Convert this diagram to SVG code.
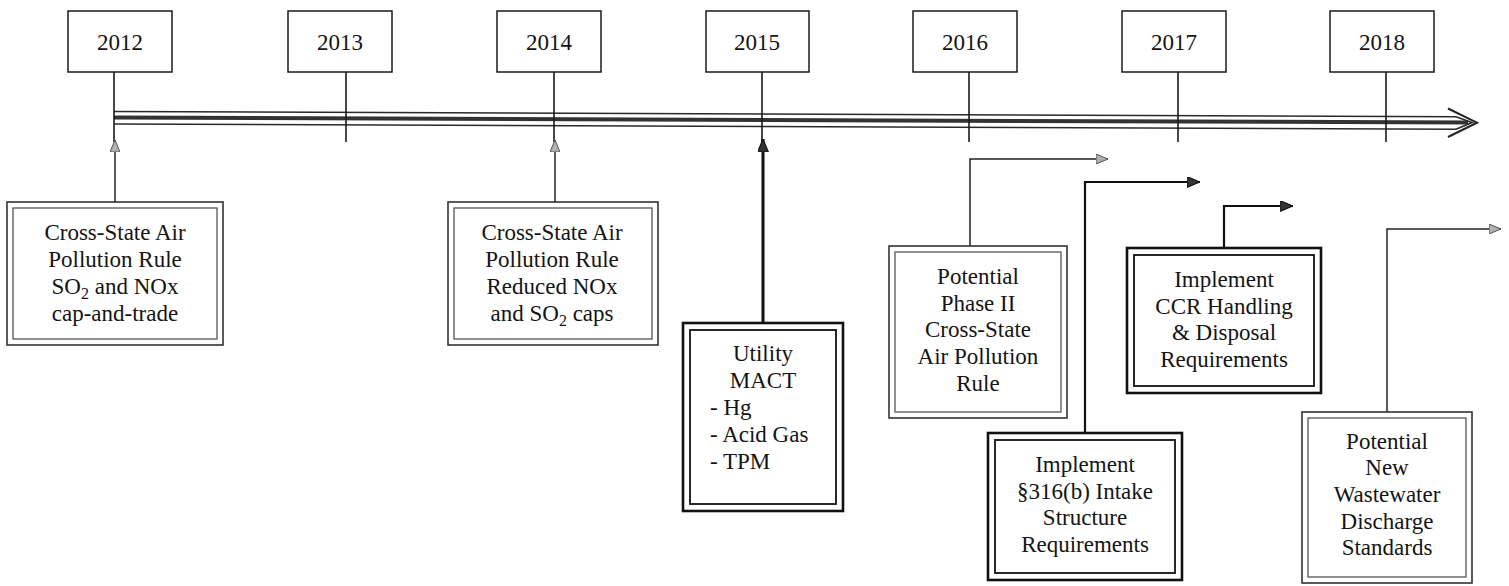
<svg xmlns="http://www.w3.org/2000/svg" width="1509" height="586" viewBox="0 0 1509 586">
<style>
.bg{fill:#fff}
.yb{fill:#fff;stroke:#1a1a1a;stroke-width:1.5}
.t{font-family:"Liberation Serif","Times New Roman",serif;font-size:23px;fill:#141414;text-anchor:middle}
.tl{text-anchor:start}
.ol{fill:#fff;stroke:#333;stroke-width:1.6}
.il{fill:none;stroke:#555;stroke-width:1.3}
.olb{fill:#fff;stroke:#111;stroke-width:2.6}
.ilb{fill:none;stroke:#111;stroke-width:1.8}
.c{fill:none;stroke:#222;stroke-width:1.5}
.cb{fill:none;stroke:#111;stroke-width:2.2}
.stem{stroke:#1a1a1a;stroke-width:1.6}
.tline{fill:none;stroke:#2a2a2a;stroke-width:1.6}
.band{fill:none;stroke:#333;stroke-width:4}
</style>
<defs>
<marker id="ag" viewBox="0 0 12 10" refX="12" refY="5" markerWidth="12" markerHeight="10" markerUnits="userSpaceOnUse" orient="auto">
<path d="M0,0 L12,5 L0,10 z" fill="#b0b0b0" stroke="#555" stroke-width="1"/>
</marker>
<marker id="ad" viewBox="0 0 12 10" refX="12" refY="5" markerWidth="13" markerHeight="11" markerUnits="userSpaceOnUse" orient="auto">
<path d="M0,0 L12,5 L0,10 z" fill="#333" stroke="#111" stroke-width="1"/>
</marker>
</defs>
<rect class="bg" x="0" y="0" width="1509" height="586"/>

<g id="timeline">
<line class="tline" x1="114" y1="111.5" x2="1456" y2="116.7"/>
<line class="band" x1="114" y1="117.5" x2="1468" y2="122.6"/>
<line class="tline" x1="114" y1="124" x2="1456" y2="129.2"/>
<path class="tline" d="M1456,116.7 L1472,122.5 L1456,129.2"/>
<path d="M1448,108.5 L1477,122.7 L1448,137" fill="none" stroke="#222" stroke-width="2"/>
</g>

<g id="year-2012"><line class="stem" x1="114" y1="72" x2="114" y2="142"/><rect class="yb" x="68" y="11" width="104" height="61"/><text class="t" x="120" y="50">2012</text></g>
<g id="year-2013"><line class="stem" x1="346" y1="72" x2="346" y2="142"/><rect class="yb" x="288" y="11" width="104" height="61"/><text class="t" x="340" y="50">2013</text></g>
<g id="year-2014"><line class="stem" x1="554" y1="72" x2="554" y2="142"/><rect class="yb" x="497" y="11" width="104" height="61"/><text class="t" x="549" y="50">2014</text></g>
<g id="year-2015"><line class="stem" x1="762" y1="72" x2="762" y2="142"/><rect class="yb" x="706" y="11" width="103" height="61"/><text class="t" x="757" y="50">2015</text></g>
<g id="year-2016"><line class="stem" x1="969" y1="72" x2="969" y2="142"/><rect class="yb" x="913" y="11" width="104" height="61"/><text class="t" x="965" y="50">2016</text></g>
<g id="year-2017"><line class="stem" x1="1178" y1="72" x2="1178" y2="142"/><rect class="yb" x="1122" y="11" width="104" height="61"/><text class="t" x="1174" y="50">2017</text></g>
<g id="year-2018"><line class="stem" x1="1386" y1="72" x2="1386" y2="142"/><rect class="yb" x="1330" y="11" width="104" height="61"/><text class="t" x="1382" y="50">2018</text></g>

<g id="connectors">
<path class="c" d="M115,202 V140" marker-end="url(#ag)"/>
<path class="c" d="M555,202 V140" marker-end="url(#ag)"/>
<path d="M763,323 V139" fill="none" stroke="#111" stroke-width="3" marker-end="url(#ad)"/>
<path class="c" d="M970,246 V159 H1108" marker-end="url(#ag)"/>
<path class="cb" d="M1085,433 V182 H1200" marker-end="url(#ad)"/>
<path class="cb" d="M1224,248 V206 H1293" marker-end="url(#ad)"/>
<path class="c" d="M1387,412 V229 H1501" marker-end="url(#ag)"/>
</g>

<g id="event-csapr-2012">
<rect class="ol" x="7" y="202" width="216" height="143"/>
<rect class="il" x="13" y="208" width="204" height="131"/>
<text class="t" x="115" y="240">Cross-State Air</text>
<text class="t" x="115" y="267">Pollution Rule</text>
<text class="t" x="115" y="294">SO<tspan font-size="16" dy="5">2</tspan><tspan dy="-5"> and NOx</tspan></text>
<text class="t" x="115" y="321">cap-and-trade</text>
</g>

<g id="event-csapr-2014">
<rect class="ol" x="448" y="202" width="210" height="143"/>
<rect class="il" x="454" y="208" width="198" height="131"/>
<text class="t" x="552" y="240">Cross-State Air</text>
<text class="t" x="552" y="267">Pollution Rule</text>
<text class="t" x="552" y="294">Reduced NOx</text>
<text class="t" x="552" y="321">and SO<tspan font-size="16" dy="5">2</tspan><tspan dy="-5"> caps</tspan></text>
</g>

<g id="event-mact-2015">
<rect class="olb" x="683" y="323" width="160" height="188"/>
<rect class="ilb" x="690" y="330" width="146" height="174"/>
<text class="t" x="763" y="361">Utility</text>
<text class="t" x="763" y="388">MACT</text>
<text class="t tl" x="710" y="415">- Hg</text>
<text class="t tl" x="710" y="442">- Acid Gas</text>
<text class="t tl" x="710" y="469">- TPM</text>
</g>

<g id="event-phase2-2016">
<rect class="ol" x="889" y="246" width="178" height="172"/>
<rect class="il" x="895" y="252" width="166" height="160"/>
<text class="t" x="978" y="284">Potential</text>
<text class="t" x="978" y="311">Phase II</text>
<text class="t" x="978" y="337">Cross-State</text>
<text class="t" x="978" y="364">Air Pollution</text>
<text class="t" x="978" y="391">Rule</text>
</g>

<g id="event-316b">
<rect class="olb" x="988" y="433" width="194" height="147"/>
<rect class="ilb" x="995" y="440" width="180" height="133"/>
<text class="t" x="1085" y="472">Implement</text>
<text class="t" x="1085" y="499">§316(b) Intake</text>
<text class="t" x="1085" y="525">Structure</text>
<text class="t" x="1085" y="552">Requirements</text>
</g>

<g id="event-ccr">
<rect class="olb" x="1127" y="248" width="194" height="145"/>
<rect class="ilb" x="1134" y="255" width="180" height="131"/>
<text class="t" x="1224" y="287">Implement</text>
<text class="t" x="1224" y="314">CCR Handling</text>
<text class="t" x="1224" y="340">&amp; Disposal</text>
<text class="t" x="1224" y="367">Requirements</text>
</g>

<g id="event-wastewater">
<rect class="ol" x="1302" y="412" width="170" height="171"/>
<rect class="il" x="1308" y="418" width="158" height="159"/>
<text class="t" x="1387" y="449">Potential</text>
<text class="t" x="1387" y="475">New</text>
<text class="t" x="1387" y="502">Wastewater</text>
<text class="t" x="1387" y="529">Discharge</text>
<text class="t" x="1387" y="555">Standards</text>
</g>
</svg>
